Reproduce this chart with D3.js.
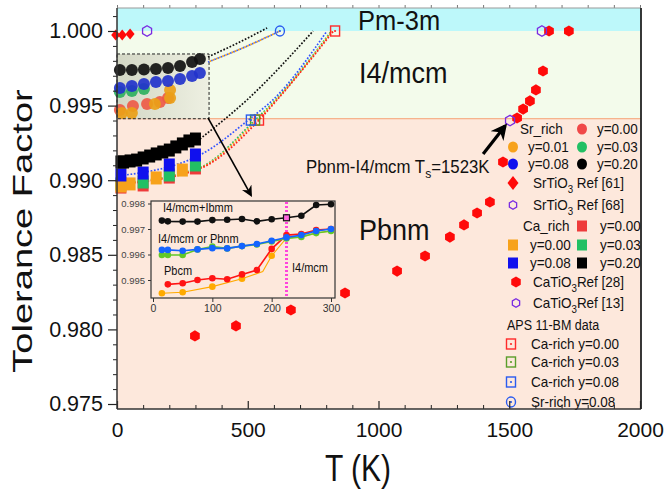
<!DOCTYPE html>
<html>
<head>
<meta charset="utf-8">
<script src="https://cdn.jsdelivr.net/npm/d3@7"></script>
<style>
  body { margin: 0; background: #fff; }
  svg { display: block; }
  text { font-family: "Liberation Sans", Arial, Helvetica, sans-serif; }
</style>
</head>
<body>
<div id="grafico"></div>
<script>
// ---- datos ----
const ticksX = [0, 500, 1000, 1500, 2000];
const ticksY = [0.975, 0.980, 0.985, 0.990, 0.995, 1.000];
const ticksInsetX = [0, 100, 200, 300];
const ticksInsetY = [0.995, 0.996, 0.997, 0.998];

// limites de fase (tolerance factor)
const limiteCubica = 1.000;
const limiteTetragonal = 0.99412;

// CaTiO3 Ref [28] (hexagonos rojos)
const caTiO3Ref28 = [[298, 0.97956], [455, 0.98023], [665, 0.98130], [872, 0.98244], [1071, 0.98391],
    [1178, 0.98492], [1273, 0.98619], [1327, 0.98700], [1377, 0.98780], [1426, 0.98854], [1476, 0.99122],
    [1530, 0.99417], [1553, 0.99477], [1579, 0.99531], [1602, 0.99605], [1629, 0.99732], [1652, 1.0], [1728, 1.0]];
// CaTiO3 Ref [13] y SrTiO3 Ref [68] (hexagonos abiertos)
const caTiO3Ref13 = [[1503, 0.99400], [1625, 1.0]];
const srTiO3Ref68 = [[115, 1.0]];
// SrTiO3 Ref [61] (rombos)
const srTiO3Ref61 = [[-5, 0.99973], [20, 0.99973], [50, 0.99980]];

// APS 11-BM
const apsCa000 = [[543, 0.99403], [834, 1.0]];
const apsCa003 = [[528, 0.99403]];
const apsCa008 = [[512, 0.99403]];
const apsSr008 = [[623, 1.0]];

// Ca_rich (cuadrados)
const caRojo = [[15, 0.98954], [100, 0.98968], [200, 0.99021], [300, 0.99082]];
const caVerde = [[15, 0.98975], [100, 0.98988], [200, 0.99035], [300, 0.99102]];
const caNaranja = [[15, 0.98961], [50, 0.98975], [150, 0.99015], [250, 0.99068]];
const caAzul = [[15, 0.99035], [100, 0.99048], [200, 0.99102], [300, 0.99169]];
const caNegroT = [15, 25, 50, 75, 100, 125, 150, 175, 200, 225, 250, 275, 300];
const caNegroTF = [0.99122, 0.99122, 0.99129, 0.99135, 0.99149, 0.99162, 0.99176, 0.99189, 0.99202, 0.99223, 0.99243, 0.99263, 0.99276];

// curvas punteadas (ajustes)
const ajusteCaNegro = [[317, 0.99276], [497, 0.99538], [750, 1.0]];
const ajusteCaAzul = [[0, 0.99028], [317, 0.99169], [512, 0.99417], [596, 0.99538], [803, 1.0]];
const ajusteCaVerde = [[0, 0.98978], [317, 0.99085], [528, 0.99403], [606, 0.99538], [820, 1.0]];
const ajusteCaNaranja = [[0, 0.98975], [317, 0.99082], [535, 0.99403], [609, 0.99538], [823, 1.0]];
const ajusteCaRojo = [[0, 0.98970], [317, 0.99078], [543, 0.99403], [612, 0.99538], [828, 1.0]];
const ajusteSrNegro = [[348, 0.99826], [460, 0.99918], [574, 1.0002]];
const ajusteSrAzul = [[348, 0.99792], [490, 0.99893], [623, 1.0]];

// imagen ampliada (recuadro punteado) de los datos Sr_rich
const lupaT = [11, 57, 103, 149, 195, 241, 287, 317];
const lupaNegro = [0.99739, 0.99739, 0.99742, 0.99745, 0.99752, 0.99765, 0.99792, 0.99812];
const lupaAzul = [0.99618, 0.99631, 0.99645, 0.99658, 0.99665, 0.99678, 0.99698, 0.99718];
const lupaVerdeT = [11, 57, 103];
const lupaVerde = [0.99591, 0.99598, 0.99611];
const lupaRojoT = [11, 61, 115, 164, 195];
const lupaRojo = [0.99471, 0.99497, 0.99511, 0.99524, 0.99551];
const lupaNaranjaT = [19, 57, 145, 203, 203];
const lupaNaranja = [0.99450, 0.99450, 0.99511, 0.99551, 0.99605];
const lupaCaja = [[0, 0.99846], [352, 0.99412]];

// inset: Sr_rich, T < 300 K
const insetT = [15, 25, 50, 75, 100, 125, 150, 175, 200, 225, 250, 275, 300];
const insetNegro = [0.99733, 0.99730, 0.99729, 0.99729, 0.99735, 0.99736, 0.99739, 0.99730, 0.99738, 0.99744, 0.99752, 0.99794, 0.99797];
const insetAzul = [0.99618, 0.99618, 0.99615, 0.99620, 0.99625, 0.99624, 0.99633, 0.99641, 0.99654, 0.99667, 0.99676, 0.99692, 0.99700];
const insetVerde = [0.99598, 0.99598, 0.99598, 0.99620, 0.99631, 0.99624, 0.99633, 0.99639, 0.99651, 0.99663, 0.99669, 0.99684, 0.99692];
const insetRojoT = [25, 50, 75, 100, 125, 150, 175, 200, 225, 250, 275, 300];
const insetRojo = [0.99483, 0.99487, 0.99500, 0.99507, 0.99503, 0.99522, 0.99539, 0.99622, 0.99676, 0.99680, 0.99696, 0.99700];
const insetNaranjaT = [15, 50, 100, 150, 185, 200, 225, 250, 275, 300];
const insetNaranja = [0.99448, 0.99452, 0.99474, 0.99505, 0.99533, 0.99595, 0.99665, 0.99669, 0.99684, 0.99692];
const insetNaranjaMarcas = [15, 50, 100, 150, 200];
const insetTransicion = 225;

// flechas (T, TF)
const flechaTs = [[1400, 0.99176], [1484, 0.99363]];
const flechaLupa = [[348, 0.99417], [512, 0.98901]];

// ---- colores ----
const rojo = "#ff0a0a", rojoSr = "#f04848", naranja = "#f7a21b", verde = "#22c064",
    azul = "#1010ee", negro = "#000000", morado = "#7a2be2";
const apsRojo = "#ff2a2a", apsVerde = "#5a9e2a", apsAzul = "#2a5bef";

// ---- escalas ----
const arriba = 8, abajo = 409, izquierda = 117, derecha = 641;
const x = d3.scaleLinear().domain([0, 2000]).range([117, 640]);
const y = d3.scaleLinear().domain([0.975, 1.0]).range([404, 31]);
const xi = d3.scaleLinear().domain([0, 300]).range([153, 331]);
const yi = d3.scaleLinear().domain([0.995, 0.998]).range([280, 203.5]);
const insetCaja = { izq: 151, der: 335, arr: 201, aba: 298 };

const $svg = d3.select("#grafico")
    .append("svg")
    .attr("width", 667)
    .attr("height", 493);

const defs = $svg.append("defs");
const grad = defs.append("linearGradient").attr("id", "lupaFondo");
grad.append("stop").attr("offset", "0%").attr("stop-color", "#d3d7c5");
grad.append("stop").attr("offset", "100%").attr("stop-color", "#eef0e2");
const flechaMarca = (id, tam) => defs.append("marker")
    .attr("id", id)
    .attr("viewBox", "0 0 10 10")
    .attr("refX", 8).attr("refY", 5)
    .attr("markerWidth", tam).attr("markerHeight", tam)
    .attr("markerUnits", "userSpaceOnUse")
    .attr("orient", "auto")
    .append("path")
    .attr("d", "M0,0 L10,5 L0,10 L3,5 Z")
    .attr("fill", "#000");
flechaMarca("puntaGrande", 16);
flechaMarca("puntaChica", 11);

// ---- ayudas ----
const hexagono = r => {
    const p = d3.path();
    for (let i = 0; i < 6; i++) {
        const a = Math.PI / 3 * i - Math.PI / 2;
        if (i === 0) p.moveTo(r * Math.cos(a), r * Math.sin(a));
        else p.lineTo(r * Math.cos(a), r * Math.sin(a));
    }
    p.closePath();
    return p.toString();
};
const rombo = (w, h) => `M0,${-h}L${w},0L0,${h}L${-w},0Z`;

const texto = (padre, px, py, contenido, tam, estirar = 1, ancla = "start") =>
    padre.append("text")
        .attr("transform", `translate(${px},${py}) scale(1,${estirar})`)
        .attr("font-size", tam)
        .attr("text-anchor", ancla)
        .attr("fill", "#111")
        .text(contenido);

// texto con subindice: partes = [[cadena, esSub], ...]
const textoSub = (padre, px, py, partes, tam, estirar = 1) => {
    const t = padre.append("text")
        .attr("transform", `translate(${px},${py}) scale(1,${estirar})`)
        .attr("font-size", tam)
        .attr("fill", "#111");
    let abajoSub = false;
    partes.forEach(([cadena, sub]) => {
        const dy = sub && !abajoSub ? tam * 0.3 : (!sub && abajoSub ? -tam * 0.3 : 0);
        abajoSub = sub;
        t.append("tspan").attr("dy", dy).attr("font-size", sub ? tam * 0.72 : tam).text(cadena);
    });
    return t;
};

const simbolo = (padre, tipo, color, px, py) => {
    const g = padre.append("g").attr("transform", `translate(${px},${py})`);
    if (tipo === "circulo") {
        g.append("ellipse").attr("rx", 5).attr("ry", 5.6).attr("fill", color);
    } else if (tipo === "cuadrado") {
        g.append("rect").attr("x", -5).attr("y", -5.5).attr("width", 10).attr("height", 11).attr("fill", color);
    } else if (tipo === "rombo") {
        g.append("path").attr("d", rombo(5.5, 7)).attr("fill", color);
    } else if (tipo === "hexagono") {
        g.append("path").attr("d", hexagono(5.5)).attr("fill", color);
    } else if (tipo === "hexAbierto") {
        g.append("path").attr("d", hexagono(4.2)).attr("fill", "none").attr("stroke", color).attr("stroke-width", 1.3);
    } else if (tipo === "cuadroPunto") {
        g.append("rect").attr("x", -4.5).attr("y", -5).attr("width", 9).attr("height", 10)
            .attr("fill", "none").attr("stroke", color).attr("stroke-width", 1.4);
        g.append("circle").attr("r", 1.1).attr("fill", color);
    } else if (tipo === "circuloPunto") {
        g.append("ellipse").attr("rx", 4.5).attr("ry", 5).attr("fill", "none").attr("stroke", color).attr("stroke-width", 1.4);
        g.append("circle").attr("r", 1.1).attr("fill", color);
    }
    return g;
};

// ---- fondos de fase ----
$svg.append("rect")
    .attr("x", izquierda).attr("y", arriba)
    .attr("width", derecha - izquierda).attr("height", y(limiteCubica) - arriba)
    .attr("fill", "#bdf8fa");
$svg.append("rect")
    .attr("x", izquierda).attr("y", y(limiteCubica))
    .attr("width", derecha - izquierda).attr("height", y(limiteTetragonal) - y(limiteCubica))
    .attr("fill", "#f3fbeb");
$svg.append("rect")
    .attr("x", izquierda).attr("y", y(limiteTetragonal))
    .attr("width", derecha - izquierda).attr("height", abajo - y(limiteTetragonal))
    .attr("fill", "#fde8dc");
$svg.append("line")
    .attr("x1", izquierda).attr("x2", derecha)
    .attr("y1", y(limiteTetragonal)).attr("y2", y(limiteTetragonal))
    .attr("stroke", "#f5a072").attr("stroke-width", 1);

// ---- recuadro ampliado ----
const lupa = $svg.append("g");
lupa.append("rect")
    .attr("x", x(lupaCaja[0][0])).attr("y", y(lupaCaja[0][1]))
    .attr("width", x(lupaCaja[1][0]) - x(lupaCaja[0][0]))
    .attr("height", y(lupaCaja[1][1]) - y(lupaCaja[0][1]))
    .attr("fill", "url(#lupaFondo)");
const circulosLupa = (ts, vals, color) => lupa.selectAll(null)
    .data(ts.map((t, i) => [t, vals[i]]))
    .join("circle")
    .attr("cx", d => x(d[0])).attr("cy", d => y(d[1]))
    .attr("r", 6)
    .attr("fill", color)
    .attr("opacity", 0.92);
circulosLupa(lupaRojoT, lupaRojo, "#ee5a48");
circulosLupa(lupaNaranjaT, lupaNaranja, "#eaa018");
circulosLupa(lupaVerdeT, lupaVerde, "#2fb060");
circulosLupa(lupaT, lupaAzul, "#2233cc");
circulosLupa(lupaT, lupaNegro, "#111");
lupa.append("rect")
    .attr("x", x(lupaCaja[0][0])).attr("y", y(lupaCaja[0][1]))
    .attr("width", x(lupaCaja[1][0]) - x(lupaCaja[0][0]))
    .attr("height", y(lupaCaja[1][1]) - y(lupaCaja[0][1]))
    .attr("fill", "none").attr("stroke", "#222")
    .attr("stroke-width", 1).attr("stroke-dasharray", "3,2");

// ---- curvas de ajuste punteadas ----
const linea = d3.line().x(d => x(d[0])).y(d => y(d[1])).curve(d3.curveMonotoneX);
const punteada = (datos, color, desfase = 0) => $svg.append("path")
    .attr("d", linea(datos))
    .attr("fill", "none")
    .attr("stroke", color)
    .attr("stroke-width", 1.7)
    .attr("stroke-dasharray", "1.7,1.7")
    .attr("stroke-dashoffset", desfase);
punteada(ajusteSrNegro, "#111");
punteada(ajusteSrAzul, "#3b63ff");
punteada(ajusteSrAzul, naranja, 1.7);
punteada(ajusteCaNegro, "#111");
punteada(ajusteCaAzul, "#3355ff");
punteada(ajusteCaVerde, verde);
punteada(ajusteCaNaranja, naranja);
punteada(ajusteCaRojo, "#ff2020");

// ---- cuadrados Ca_rich ----
const cuadrados = (datos, color) => $svg.append("g").selectAll("rect")
    .data(datos)
    .join("rect")
    .attr("x", d => x(d[0]) - 5.5).attr("y", d => y(d[1]) - 6.5)
    .attr("width", 11).attr("height", 13)
    .attr("fill", color);
cuadrados(caRojo, "#ee3b3b");
cuadrados(caVerde, verde);
cuadrados(caNaranja, naranja);
cuadrados(caAzul, azul);
cuadrados(caNegroT.map((t, i) => [t, caNegroTF[i]]), negro);

// ---- referencias ----
$svg.append("g").selectAll("path")
    .data(srTiO3Ref61)
    .join("path")
    .attr("transform", d => `translate(${x(d[0])},${y(d[1])})`)
    .attr("d", rombo(4.5, 5.5))
    .attr("fill", rojo);
$svg.append("g").selectAll("path")
    .data(caTiO3Ref28)
    .join("path")
    .attr("transform", d => `translate(${x(d[0])},${y(d[1])})`)
    .attr("d", hexagono(5.6))
    .attr("fill", rojo);
$svg.append("g").selectAll("path")
    .data(srTiO3Ref68.concat(caTiO3Ref13))
    .join("path")
    .attr("transform", d => `translate(${x(d[0])},${y(d[1])})`)
    .attr("d", hexagono(5.2))
    .attr("fill", "none")
    .attr("stroke", morado)
    .attr("stroke-width", 1.3);

// ---- APS 11-BM ----
apsCa000.forEach(d => simbolo($svg, "cuadroPunto", apsRojo, x(d[0]), y(d[1])));
apsCa003.forEach(d => simbolo($svg, "cuadroPunto", apsVerde, x(d[0]), y(d[1])));
apsCa008.forEach(d => simbolo($svg, "cuadroPunto", apsAzul, x(d[0]), y(d[1])));
apsSr008.forEach(d => simbolo($svg, "circuloPunto", apsAzul, x(d[0]), y(d[1])));

// ---- flechas ----
$svg.append("line")
    .attr("x1", x(flechaLupa[0][0])).attr("y1", y(flechaLupa[0][1]))
    .attr("x2", x(flechaLupa[1][0])).attr("y2", y(flechaLupa[1][1]))
    .attr("stroke", "#000").attr("stroke-width", 1.6)
    .attr("marker-end", "url(#puntaChica)");
$svg.append("line")
    .attr("x1", x(flechaTs[0][0])).attr("y1", y(flechaTs[0][1]))
    .attr("x2", x(flechaTs[1][0])).attr("y2", y(flechaTs[1][1]))
    .attr("stroke", "#000").attr("stroke-width", 3.2)
    .attr("marker-end", "url(#puntaGrande)");

// ---- etiquetas de fase ----
texto($svg, 358, 30, "Pm-3m", 25.5, 1.12);
texto($svg, 359, 83, "I4/mcm", 27, 1.12);
texto($svg, 359, 240, "Pbnm", 27, 1.12);
textoSub($svg, 306, 173, [["Pbnm-I4/mcm  T", false], ["s", true], ["=1523K", false]], 16.8, 1.05);

// ---- inset ----
const inset = $svg.append("g");
inset.append("rect")
    .attr("x", insetCaja.izq).attr("y", insetCaja.arr)
    .attr("width", insetCaja.der - insetCaja.izq).attr("height", insetCaja.aba - insetCaja.arr)
    .attr("fill", "#fde8dc")
    .attr("stroke", "#333").attr("stroke-width", 1.2);
inset.append("line")
    .attr("x1", xi(insetTransicion)).attr("x2", xi(insetTransicion))
    .attr("y1", insetCaja.arr + 1).attr("y2", insetCaja.aba)
    .attr("stroke", "#ff44dd").attr("stroke-width", 3)
    .attr("stroke-dasharray", "2,2");
const lineaInset = d3.line().x(d => xi(d[0])).y(d => yi(d[1]));
const serieInset = (ts, vals, color, marcas = ts, grosor = 1.6, r = 3.3) => {
    const datos = ts.map((t, i) => [t, vals[i]]);
    inset.append("path")
        .attr("d", lineaInset(datos))
        .attr("fill", "none").attr("stroke", color).attr("stroke-width", grosor);
    inset.append("g").selectAll("circle")
        .data(datos.filter(d => marcas.includes(d[0])))
        .join("circle")
        .attr("cx", d => xi(d[0])).attr("cy", d => yi(d[1]))
        .attr("r", r)
        .attr("fill", color);
};
serieInset(insetNaranjaT, insetNaranja, "#ffaa00", insetNaranjaMarcas, 1.1);
serieInset(insetRojoT, insetRojo, "#ff1414");
serieInset(insetT, insetVerde, "#62c828");
serieInset(insetT, insetAzul, "#1464ff");
serieInset(insetT, insetNegro, "#111");
inset.append("rect")
    .attr("x", xi(insetTransicion) - 3).attr("y", yi(insetNegro[insetT.indexOf(insetTransicion)]) - 3)
    .attr("width", 6).attr("height", 6)
    .attr("fill", "#ff66dd").attr("stroke", "#111").attr("stroke-width", 1.2);

const ejeInsetX = inset.append("g")
    .attr("transform", `translate(0,${insetCaja.aba})`)
    .call(d3.axisBottom(xi).tickValues(ticksInsetX).tickSize(4).tickPadding(3).tickFormat(d3.format("d")));
ejeInsetX.select(".domain").remove();
ejeInsetX.selectAll("text").attr("font-size", 10.5).attr("fill", "#333")
    .attr("font-family", "\"Liberation Sans\", Arial, sans-serif");
ejeInsetX.selectAll("line").attr("stroke", "#333");
const ejeInsetY = inset.append("g")
    .attr("transform", `translate(${insetCaja.izq},0)`)
    .call(d3.axisLeft(yi).tickValues(ticksInsetY).tickSize(3).tickPadding(3).tickFormat(d3.format(".3f")));
ejeInsetY.select(".domain").remove();
ejeInsetY.selectAll("text").attr("font-size", 9.5).attr("fill", "#444")
    .attr("font-family", "\"Liberation Sans\", Arial, sans-serif");
ejeInsetY.selectAll("line").attr("stroke", "#333");

texto(inset, 163, 212, "I4/mcm+Ibmm", 11, 1.1);
texto(inset, 158, 243, "I4/mcm or Pbnm", 11, 1.1);
texto(inset, 164, 275, "Pbcm", 11, 1.1);
texto(inset, 292, 272, "I4/mcm", 11, 1.1);

// ---- leyenda ----
const ley = $svg.append("g");
const tamLey = 13.5, estLey = 1.15;
const filaLey = (py, items) => items.forEach(it => {
    if (it.s) simbolo(ley, it.s, it.c, it.x, py);
    else if (it.partes) textoSub(ley, it.x, py + 5, it.partes, tamLey, estLey);
    else texto(ley, it.x, py + 5, it.t, it.tam || tamLey, estLey);
});
filaLey(129, [{ t: "Sr_rich", x: 520 }, { s: "circulo", c: rojoSr, x: 582 }, { t: "y=0.00", x: 597 }]);
filaLey(147, [{ s: "circulo", c: naranja, x: 513 }, { t: "y=0.01", x: 528 }, { s: "circulo", c: verde, x: 582 }, { t: "y=0.03", x: 597 }]);
filaLey(164, [{ s: "circulo", c: azul, x: 513 }, { t: "y=0.08", x: 528 }, { s: "circulo", c: negro, x: 582 }, { t: "y=0.20", x: 597 }]);
filaLey(183, [{ s: "rombo", c: rojo, x: 513 }, { partes: [["SrTiO", false], ["3", true], [" Ref [61]", false]], x: 533 }]);
filaLey(205, [{ s: "hexAbierto", c: morado, x: 513 }, { partes: [["SrTiO", false], ["3", true], [" Ref [68]", false]], x: 533 }]);
filaLey(226, [{ t: "Ca_rich", x: 523 }, { s: "cuadrado", c: "#ee3b3b", x: 582 }, { t: "y=0.00", x: 600 }]);
filaLey(245, [{ s: "cuadrado", c: naranja, x: 513 }, { t: "y=0.00", x: 530 }, { s: "cuadrado", c: verde, x: 582 }, { t: "y=0.03", x: 600 }]);
filaLey(263, [{ s: "cuadrado", c: azul, x: 513 }, { t: "y=0.08", x: 530 }, { s: "cuadrado", c: negro, x: 582 }, { t: "y=0.20", x: 600 }]);
filaLey(282, [{ s: "hexagono", c: rojo, x: 516 }, { partes: [["CaTiO", false], ["3", true], ["Ref [28]", false]], x: 533 }]);
filaLey(303, [{ s: "hexAbierto", c: morado, x: 516 }, { partes: [["CaTiO", false], ["3", true], ["Ref [13]", false]], x: 533 }]);
filaLey(325, [{ t: "APS 11-BM data", x: 507, tam: 12.5 }]);
filaLey(344, [{ s: "cuadroPunto", c: apsRojo, x: 511 }, { t: "Ca-rich y=0.00", x: 531 }]);
filaLey(362, [{ s: "cuadroPunto", c: apsVerde, x: 511 }, { t: "Ca-rich y=0.03", x: 531 }]);
filaLey(382, [{ s: "cuadroPunto", c: apsAzul, x: 511 }, { t: "Ca-rich y=0.08", x: 531 }]);
filaLey(402, [{ s: "circuloPunto", c: apsAzul, x: 511 }, { t: "Sr-rich  y=0.08", x: 531 }]);

// ---- ejes ----
const fuenteEje = "\"Liberation Sans\", Arial, sans-serif";
const ejeY = $svg.append("g")
    .attr("transform", `translate(${izquierda},0)`)
    .call(d3.axisLeft(y).tickValues(ticksY).tickSize(9).tickPadding(5).tickFormat(d3.format(".3f")));
ejeY.select(".domain").remove();
ejeY.selectAll("text").attr("font-size", 21.5).attr("fill", "#111").attr("font-family", fuenteEje);
ejeY.selectAll("line").attr("stroke", "#222").attr("stroke-width", 1.2);
const menoresY = d3.range(975, 1002).map(v => v / 1000).filter(v => !ticksY.includes(v));
$svg.append("g")
    .attr("transform", `translate(${izquierda},0)`)
    .call(d3.axisLeft(y).tickValues(menoresY).tickSize(4).tickFormat(""))
    .call(g => g.select(".domain").remove())
    .selectAll("line").attr("stroke", "#222");

const ejeX = $svg.append("g")
    .attr("transform", `translate(0,${abajo})`)
    .call(d3.axisBottom(x).tickValues(ticksX).tickSize(-8).tickPadding(13).tickFormat(d3.format("d")));
ejeX.select(".domain").remove();
ejeX.selectAll("text").attr("font-size", 21).attr("fill", "#111").attr("font-family", fuenteEje);
ejeX.selectAll("line").attr("stroke", "#222").attr("stroke-width", 1.2);
const menoresX = d3.range(0, 2001, 100).filter(v => !ticksX.includes(v));
$svg.append("g")
    .attr("transform", `translate(0,${abajo})`)
    .call(d3.axisBottom(x).tickValues(menoresX).tickSize(-4).tickFormat(""))
    .call(g => g.select(".domain").remove())
    .selectAll("line").attr("stroke", "#222");
$svg.append("g")
    .attr("transform", `translate(0,${arriba})`)
    .call(d3.axisTop(x).tickValues(d3.range(0, 2001, 100)).tickSize(3).tickFormat(""))
    .call(g => g.select(".domain").remove())
    .selectAll("line").attr("stroke", "#777");

// marco
$svg.append("line").attr("x1", izquierda).attr("x2", derecha).attr("y1", arriba).attr("y2", arriba)
    .attr("stroke", "#999").attr("stroke-width", 1);
$svg.append("line").attr("x1", izquierda).attr("x2", izquierda).attr("y1", arriba).attr("y2", abajo)
    .attr("stroke", "#333").attr("stroke-width", 1.5);
$svg.append("line").attr("x1", izquierda).attr("x2", derecha).attr("y1", abajo).attr("y2", abajo)
    .attr("stroke", "#333").attr("stroke-width", 1.5);
$svg.append("line").attr("x1", derecha).attr("x2", derecha).attr("y1", arriba).attr("y2", abajo)
    .attr("stroke", "#222").attr("stroke-width", 1.8);

// titulos de ejes
$svg.append("text")
    .attr("transform", `translate(32,231) scale(1,1.36) rotate(-90)`)
    .attr("font-size", 28)
    .attr("text-anchor", "middle")
    .attr("fill", "#111")
    .text("Tolerance Factor");
texto($svg, 358, 481, "T (K)", 30, 1.2, "middle");
</script>
</body>
</html>
